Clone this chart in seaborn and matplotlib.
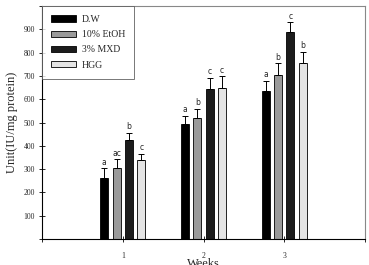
import numpy as np
import pandas as pd
import seaborn as sns
import matplotlib.pyplot as plt

# data
weeks = [1, 2, 3]
groups = ["D.W", "10% EtOH", "3% MXD", "HGG"]
dw = [263, 495, 634]
etoh = [307, 520, 704]
mxd = [425, 645, 887]
hgg = [338, 650, 754]
dw_err = [40, 35, 43]
etoh_err = [35, 40, 50]
mxd_err = [32, 46, 43]
hgg_err = [29, 48, 50]
letters = [["a", "a", "a"], ["ac", "b", "b"], ["b", "c", "c"], ["c", "c", "b"]]
colors = ["#000000", "#9a9a9a", "#1c1c1c", "#e4e4e4"]

vals = [dw, etoh, mxd, hgg]
errs = [dw_err, etoh_err, mxd_err, hgg_err]
rows = []
for g, v in zip(groups, vals):
    for w, x in zip(weeks, v):
        rows.append({"Weeks": w, "group": g, "value": x})
df = pd.DataFrame(rows)

sns.set_style("white")
plt.rcParams['font.family'] = ['Liberation Serif', 'DejaVu Serif']

fig = plt.figure(figsize=(3.69, 2.65), dpi=100)
ax = fig.add_axes([0.114, 0.098, 0.875, 0.879])

sns.barplot(data=df, x="Weeks", y="value", hue="group", hue_order=groups,
            palette=colors, native_scale=True, width=0.61, gap=0.35,
            edgecolor="black", linewidth=0.6, errorbar=None, ax=ax)

# error bars (upper only) and letters, positioned from the bars seaborn drew
bars = [p for p in ax.patches if p.get_height() > 0][:12]
for i, g in enumerate(groups):
    for j in range(3):
        p = bars[i * 3 + j]
        xc = p.get_x() + p.get_width() / 2
        top = vals[i][j]
        e = errs[i][j]
        ax.errorbar(xc, top, yerr=[[0], [e]], fmt="none", ecolor="black",
                    elinewidth=0.7, capsize=2.5, capthick=0.7)
        ax.text(xc, top + e + 8, letters[i][j], ha="center", va="bottom",
                fontsize=5.5, family="DejaVu Sans")

ax.set_xlim(0, 4)
ax.set_ylim(0, 1000)
ax.set_xticks([0, 1, 2, 3, 4])
ax.set_xticklabels(["", "1", "2", "3", ""])
ax.set_yticks(np.arange(0, 1001, 100))
ax.set_yticklabels([""] + [str(v) for v in range(100, 1000, 100)] + [""])
ax.tick_params(axis="both", direction="inout", length=4, width=0.7,
               labelsize=5.5, bottom=True, left=True, pad=3)
ax.tick_params(axis="x", pad=7)
ax.set_xlabel("Weeks", fontsize=9, labelpad=-1)
ax.set_ylabel("Unit(IU/mg protein)", fontsize=9, labelpad=4)

for s in ["left", "bottom"]:
    ax.spines[s].set_color("black")
    ax.spines[s].set_linewidth(0.8)
for s in ["top", "right"]:
    ax.spines[s].set_color("#888888")
    ax.spines[s].set_linewidth(0.8)

leg = ax.legend(loc="upper left", fontsize=7, frameon=True, fancybox=False,
                edgecolor="#555555", borderaxespad=0, handlelength=2.6,
                handleheight=0.6, handletextpad=0.6, labelspacing=0.65,
                borderpad=0.9)
leg.get_frame().set_linewidth(0.7)

fig.savefig("out.png", dpi=100)
